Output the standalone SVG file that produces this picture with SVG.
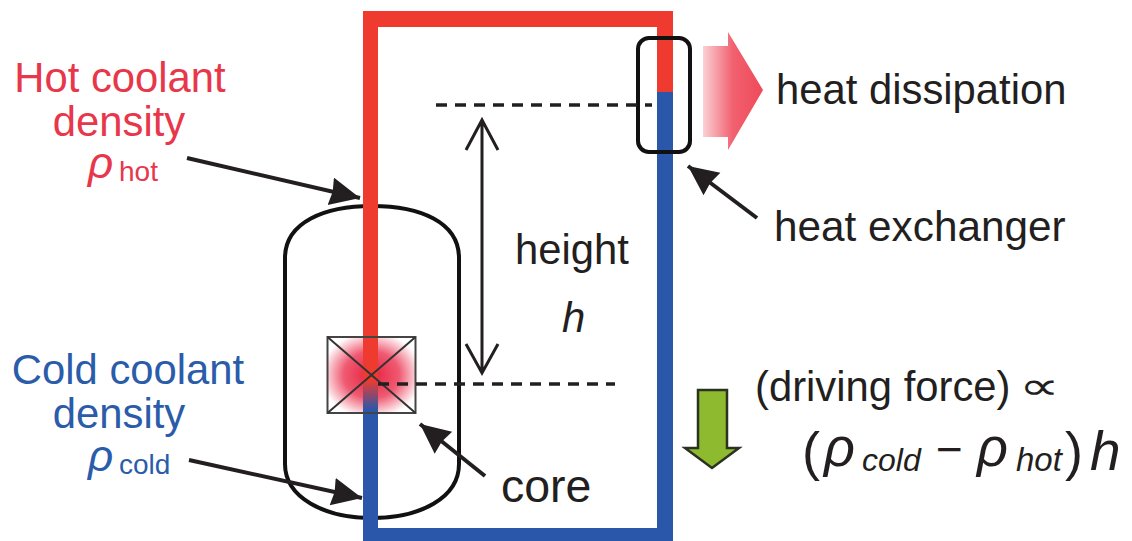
<svg xmlns="http://www.w3.org/2000/svg" width="1132" height="541" viewBox="0 0 1132 541">
<style>
text{font-family:"Liberation Sans",Arial,sans-serif;fill:#231f20}
.lbl{font-size:41.800px}
.hot{fill:#e8364a}
.cold{fill:#2a5caa}
.i{font-style:italic}
.ln{fill:none;stroke:#231f20;stroke-width:4}
.dash{fill:none;stroke:#231f20;stroke-width:3.500;stroke-dasharray:11 8}
.hd{fill:#231f20}
</style>
<defs>
<linearGradient id="gArrow" x1="0" x2="1" y1="0" y2="0"><stop offset="0" stop-color="#fad0d4"/><stop offset="0.5" stop-color="#f2606f"/><stop offset="1" stop-color="#ee4a5a"/></linearGradient>
<radialGradient id="gCore" cx="0.5" cy="0.5" r="0.58"><stop offset="0" stop-color="#e8203c"/><stop offset="0.55" stop-color="#ef5a72"/><stop offset="1" stop-color="#ffffff"/></radialGradient>
<linearGradient id="gPipe" x1="0" x2="0" y1="0" y2="1"><stop offset="0" stop-color="#ef3b2f"/><stop offset="1" stop-color="#2a57aa"/></linearGradient>
<marker id="ah" markerUnits="userSpaceOnUse" markerWidth="34" markerHeight="34" refX="30" refY="14" orient="auto"><path class="hd" d="M0 0L30 14L0 28L2 14Z"/></marker>
</defs>
<g id="vessel"><path d="M285 258C285 222 325 206 372 206C420 206 459 222 459 258V464C459 498 420 518 372 518C325 518 285 498 285 464Z" fill="none" stroke="#111" stroke-width="4"/></g>
<g id="core">
<rect x="328" y="338" width="87" height="74" fill="url(#gCore)"/>
</g>
<g id="loop">
<path d="M657 92V27H378V380H363V11H673V92Z" fill="#ef3b2f"/>
<rect x="363" y="380" width="15" height="30" fill="url(#gPipe)"/>
<path d="M657 92H673V541H363V410H378V528H657Z" fill="#2a57aa"/>
</g>
<g id="core-box"><rect x="327.500" y="337" width="88" height="76" fill="none" stroke="#444" stroke-width="2"/><path d="M327.500 337L415.500 413M415.500 337L327.500 413" fill="none" stroke="#333" stroke-width="2"/></g>
<g id="heat-exchanger"><rect x="638" y="38" width="52" height="114" rx="11" fill="none" stroke="#111" stroke-width="4"/></g>
<g id="heat-arrow"><path d="M703 46H728V32L763 90L728 150V137H703Z" fill="url(#gArrow)"/></g>
<g id="force-arrow"><path d="M698 390H727V448H739L712 468L685 448H698Z" fill="#8dba2e" stroke="#2a3320" stroke-width="2.500"/></g>
<g id="connectors">
<path class="dash" d="M436 105H652"/>
<path class="dash" d="M378 384H615"/>
<path class="ln" d="M482 120V373M466 150L482 120L498 150M466 344L482 373L498 344" style="stroke-width:3"/>
<path class="ln" d="M187 158L360 198" marker-end="url(#ah)"/>
<path class="ln" d="M189 460L362 498" marker-end="url(#ah)"/>
<path class="ln" d="M485 476L420 424" marker-end="url(#ah)"/>
<path class="ln" d="M757 218L688 166" marker-end="url(#ah)"/>
</g>
<g id="labels">
<text class="lbl hot" x="120" y="92" text-anchor="middle">Hot coolant</text>
<text class="lbl hot" x="119" y="136" text-anchor="middle">density</text>
<text class="hot i" x="88" y="178" style="font-size:44px">ρ</text>
<text class="hot" x="119" y="181" style="font-size:28px">hot</text>
<text class="lbl cold" x="128" y="384" text-anchor="middle">Cold coolant</text>
<text class="lbl cold" x="119" y="428" text-anchor="middle">density</text>
<text class="cold i" x="88" y="471" style="font-size:44px">ρ</text>
<text class="cold" x="119" y="474" style="font-size:28px">cold</text>
<text class="lbl" x="776" y="104">heat dissipation</text>
<text class="lbl" x="774" y="241" style="font-size:42.300px">heat exchanger</text>
<text class="lbl" x="515" y="264">height</text>
<text class="lbl i" x="562" y="332">h</text>
<text class="lbl" x="501" y="502" style="font-size:46.500px">core</text>
<text class="lbl" x="755" y="401">(driving force)</text>
<text transform="translate(1019 399) scale(1.500 1)" style="font-size:38px;font-family:'DejaVu Sans',sans-serif">∝</text>
<text x="802" y="470" style="font-size:54px">(</text>
<text class="i" x="824" y="466" style="font-size:54px">ρ</text>
<text class="i" x="862" y="471" style="font-size:32px">cold</text>
<text x="936" y="465" style="font-size:46px">−</text>
<text class="i" x="977" y="466" style="font-size:54px">ρ</text>
<text class="i" x="1016" y="471" style="font-size:33px">hot</text>
<text x="1065" y="470" style="font-size:54px">)</text>
<text class="i" x="1090" y="470" style="font-size:55px">h</text>
</g>
</svg>
